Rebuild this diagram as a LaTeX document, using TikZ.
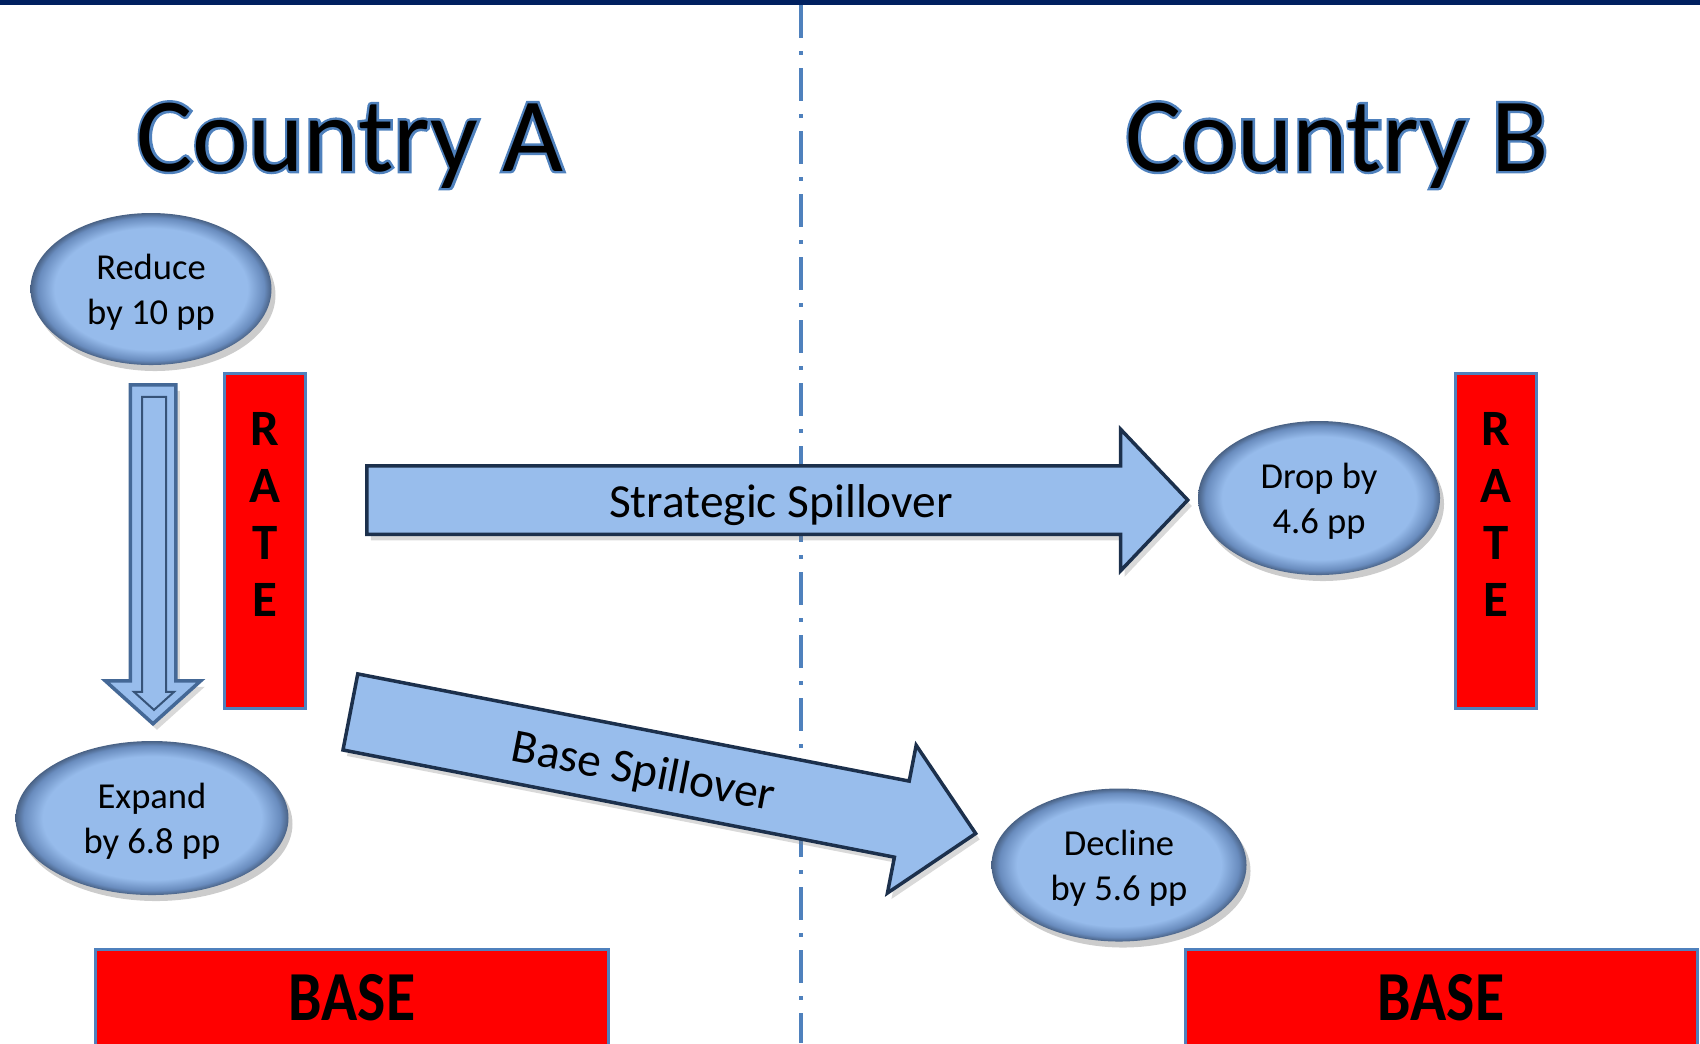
\documentclass[tikz,border=0pt]{standalone}
\usepackage{fontspec}
\setmainfont{Carlito}
\usetikzlibrary{shapes.geometric,shapes.arrows,shadows,calc}

\definecolor{navybar}{RGB}{0,32,96}
\definecolor{frameblue}{RGB}{79,129,189}
\definecolor{ovalblue}{RGB}{150,187,235}
\definecolor{ovalrim}{RGB}{105,140,190}
\definecolor{arrowblue}{RGB}{152,189,236}
\definecolor{arrowedge}{RGB}{28,48,76}
\definecolor{cutedge}{RGB}{68,104,150}

\pgfdeclareradialshading{ovalshade}{\pgfpoint{0bp}{0bp}}{color(0bp)=(ovalblue); color(20bp)=(ovalblue); color(23.5bp)=(ovalrim); color(25bp)=(ovalrim!70!black); color(50bp)=(ovalrim!70!black)}

% black letters with a blue rim
\newcommand\cntrytext[1]{\rlap{\special{pdf:literal direct 0.31 0.506 0.741 RG 1 Tr 1.4 w}#1\special{pdf:literal direct 0 Tr}}#1}

\begin{document}
\begin{tikzpicture}[x=0.1mm,y=-0.1mm]
    \tikzstyle{oval}=[ellipse,shading=ovalshade,inner sep=0pt,align=center,text depth=0pt,
      drop shadow={opacity=0.4,shadow xshift=0.4mm,shadow yshift=-0.6mm},
      font=\fontsize{10.4}{12.8}\selectfont]
    \tikzstyle{ratebox}=[rectangle,fill=red,draw=frameblue,line width=0.3mm,
      minimum width=8.1mm,minimum height=33.5mm,inner sep=0pt]
    \tikzstyle{rateletter}=[inner sep=0pt,font=\fontsize{14.5}{14.5}\selectfont\bfseries]
    \tikzstyle{basebox}=[rectangle,fill=red,draw=frameblue,line width=0.3mm,
      minimum height=9.8mm,inner sep=0pt,font=\fontsize{20}{20}\selectfont\bfseries]
    \tikzstyle{block}=[single arrow,fill=arrowblue,draw=arrowedge,line width=0.35mm,inner sep=0pt,
      drop shadow={opacity=0.3,shadow xshift=0.4mm,shadow yshift=-0.6mm},
      font=\fontsize{13.5}{16}\selectfont]

    \useasboundingbox (0,0) rectangle (1700,1043);
    \clip (0,0) rectangle (1700,1043);
    \fill[navybar] (0,0) rectangle (1700,5);
    \draw[frameblue,line width=0.4mm,dash pattern=on 3.3mm off 1.3mm on 0.4mm off 1.3mm] (801,5) -- (801,1043);

    \node[anchor=base,font=\fontsize{30}{30}\selectfont] (ctyA) at (350,171) {\cntrytext{Country A}};
    \node[anchor=base,font=\fontsize{30}{30}\selectfont] (ctyB) at (1337,171) {\cntrytext{Country B}};

    \node[oval,minimum width=24.1mm,minimum height=15.2mm] (reduce) at (151,289) {Reduce\\by 10 pp};
    \node[oval,minimum width=27.3mm,minimum height=15.4mm] (expand) at (152,818) {Expand\\by 6.8 pp};
    \node[oval,minimum width=24.2mm,minimum height=15.4mm] (drop) at (1319,498) {Drop by\\4.6 pp};
    \node[oval,minimum width=25.5mm,minimum height=15.3mm] (decline) at (1119,865) {Decline\\by 5.6 pp};

    \node[ratebox] (rateA) at (265,541) {};
    \node[ratebox] (rateB) at (1496,541) {};
    \foreach \b in {rateA,rateB} {
      \foreach \l [count=\i] in {R,A,T,E} {
        \node[rateletter] (\b\i) at ($(\b.north)+(0,57*\i)$) {\l};
      }
    }

    \node[basebox,minimum width=51.3mm] (baseA) at (352,998) {\scalebox{0.85}[1]{BASE}};
    \node[basebox,minimum width=51.2mm] (baseB) at (1441,998) {\scalebox{0.85}[1]{BASE}};

    % rate cut at home
    \node[block,draw=cutedge,rotate=-90,minimum height=33.9mm,text height=2.1mm,text depth=2.1mm,
      single arrow head extend=2.5mm,single arrow tip angle=96] (cut) at (153,544) {};
    \node[single arrow,draw=cutedge!80!black,line width=0.2mm,rotate=-90,inner sep=0pt,
      minimum height=31.3mm,text height=1.1mm,text depth=1.1mm,
      single arrow head extend=0.8mm,single arrow tip angle=96] (cutin) at (154,548) {};

    % spillovers to country B
    \node[block,minimum height=82.1mm,text height=5mm,text depth=1.5mm,
      single arrow head extend=3.65mm,single arrow tip angle=93] (strat) at (761,500) {\hspace*{4mm}Strategic Spillover};
    \node[block,rotate=-11,minimum height=63.7mm,text height=5.4mm,text depth=2mm,
      single arrow head extend=3.65mm,single arrow tip angle=90] (basesp) at (644,769) {Base Spillover};
\end{tikzpicture}
\end{document}
